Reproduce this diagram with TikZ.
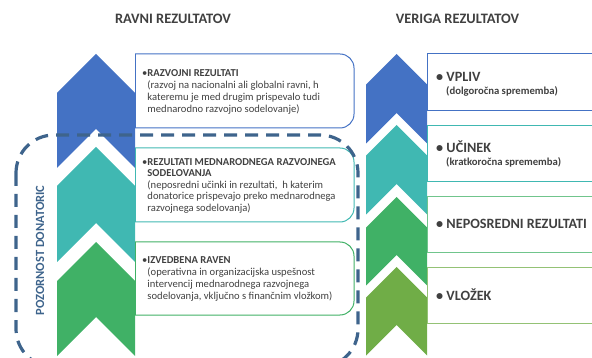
\documentclass[tikz,border=0pt]{standalone}
\usepackage{fontspec}
\setmainfont{Carlito}
\definecolor{cblue}{RGB}{68,114,196}
\definecolor{cteal}{RGB}{64,184,178}
\definecolor{cgreen}{RGB}{64,177,102}
\definecolor{clgreen}{RGB}{112,173,71}
\definecolor{cdash}{RGB}{62,100,140}
\definecolor{ctext}{RGB}{64,64,64}
\newcommand\mychev[5]{\fill[#1] (#2,#3) -- (#2+#4,#3+#4) -- (#2+#4,#5+#4) -- (#2,#5) -- (#2-#4,#5+#4) -- (#2-#4,#3+#4) -- cycle;}
\newcommand\mylbox[3]{\draw[#1, line width=1pt, rounded corners=14pt] (135,#2) -- (354,#2) -- (354,#3) -- (135,#3);
  \draw[#1, line width=1pt] (135,#2) -- (135,#3);}
\begin{document}
\begin{tikzpicture}[x=1pt,y=-1pt,
  hdr/.style={font=\fontsize{14.4}{16}\selectfont\bfseries, text=ctext, inner sep=0pt},
  ltxt/.style={font=\fontsize{10.6}{12.2}\selectfont, text=ctext, inner sep=0pt, align=left},
  rtxt/.style={font=\fontsize{14.2}{16}\selectfont\bfseries, text=ctext, inner sep=0pt},
  rsub/.style={font=\fontsize{10.7}{12}\selectfont\bfseries, text=ctext, inner sep=0pt},
  rbox/.style={line width=1pt}]
\useasboundingbox (0,0) rectangle (592,358);
\clip (0,0) rectangle (592,358);
% left chevrons
\mychev{cblue}{96}{54}{39}{129}
\mychev{cteal}{96}{147}{39}{223}
\mychev{cgreen}{96}{242}{39}{317}
% right chevrons
\mychev{cblue}{396.5}{54}{30.5}{113}
\mychev{cteal}{396.5}{125}{30.5}{184}
\mychev{cgreen}{396.5}{197}{30.5}{255}
\mychev{clgreen}{396.5}{267}{30.5}{325}
% left boxes
\mylbox{cblue}{54}{128}
\mylbox{cteal}{148}{222}
\mylbox{cgreen}{242}{315}
% right boxes
\draw[rbox, cblue] (427,54) rectangle (600,111);
\draw[rbox, cteal] (427,126) rectangle (600,182);
\draw[rbox, cgreen!75!white] (427,197) rectangle (600,253);
\draw[rbox, clgreen!75!white] (427,268) rectangle (600,323);
% dashed region
\draw[cdash, line width=3.2pt, dash pattern=on 13pt off 8pt, rounded corners=38pt] (16,135) rectangle (358,367);
% headers
\node[hdr, anchor=base] (h1) at (173,24) {RAVNI REZULTATOV};
\node[hdr, anchor=base] (h2) at (457.5,24) {VERIGA REZULTATOV};
% left texts
\node[ltxt, anchor=north west] (t1) at (142,67) {\rule{0pt}{9pt}•\textbf{RAZVOJNI REZULTATI}\\
 \phantom{•}(razvoj na nacionalni ali globalni ravni, h\\
 \phantom{•}kateremu je med drugim prispevalo tudi\\
 \phantom{•}mednarodno razvojno sodelovanje)};
\node[ltxt, anchor=north west, font=\fontsize{10.6}{11.6}\selectfont] (t2) at (142,156) {\rule{0pt}{9pt}•\textbf{REZULTATI MEDNARODNEGA RAZVOJNEGA}\\
 \phantom{•}\textbf{SODELOVANJA}\\
 \phantom{•}(neposredni učinki in rezultati,\ \ h katerim\\
 \phantom{•}donatorice prispevajo preko mednarodnega\\
 \phantom{•}razvojnega sodelovanja)};
\node[ltxt, anchor=north west] (t3) at (142,254) {\rule{0pt}{9pt}•\textbf{IZVEDBENA RAVEN}\\
 \phantom{•}(operativna in organizacijska uspešnost\\
 \phantom{•}intervencij mednarodnega razvojnega\\
 \phantom{•}sodelovanja, vključno s finančnim vložkom)};
% right texts
\node[rtxt, anchor=base west] (r1) at (436,81.5) {•\ VPLIV};
\node[rsub, anchor=base west] (r1s) at (446,94.5) {(dolgoročna sprememba)};
\node[rtxt, anchor=base west] (r2) at (436,152.5) {•\ UČINEK};
\node[rsub, anchor=base west] (r2s) at (446,165.5) {(kratkoročna sprememba)};
\node[rtxt, anchor=base west] (r3) at (436,228.5) {•\ NEPOSREDNI REZULTATI};
\node[rtxt, anchor=base west] (r4) at (436,300.5) {•\ VLOŽEK};
% side label
\node[font=\fontsize{12.5}{14}\selectfont\bfseries, text=cdash, rotate=90, inner sep=0pt] (pd) at (40,250.5) {POZORNOST DONATORIC};
\end{tikzpicture}
\end{document}
